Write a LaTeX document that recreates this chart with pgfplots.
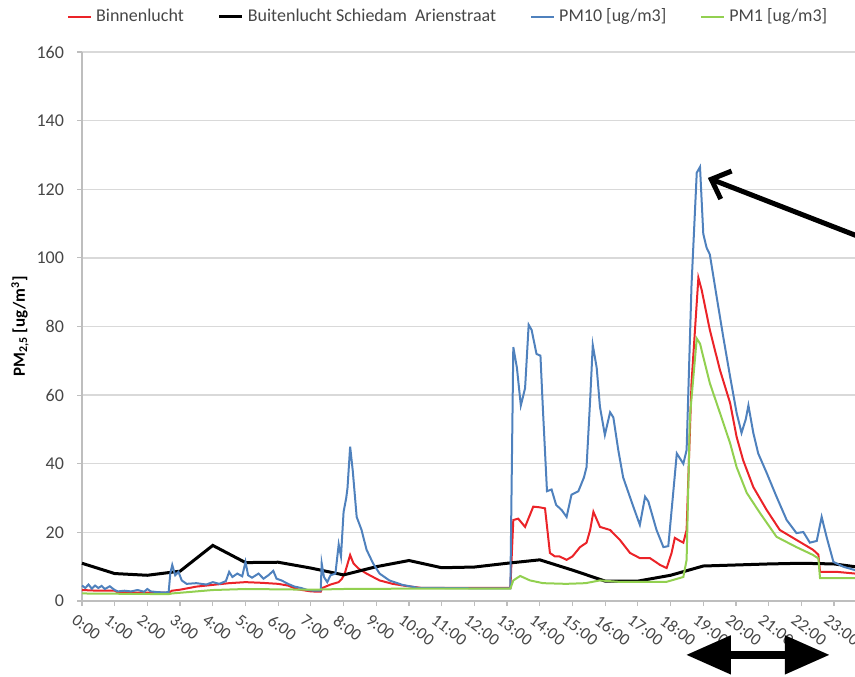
\documentclass[border=0pt]{standalone}
\usepackage{fontspec}
\setmainfont{Carlito}
\usepackage{pgfplots}
\pgfplotsset{compat=1.18}
\usetikzlibrary{arrows.meta}
\definecolor{cRed}{RGB}{235,35,40}
\definecolor{cBlue}{RGB}{79,129,189}
\definecolor{cGreen}{RGB}{146,208,80}
\definecolor{cGrid}{RGB}{217,217,217}
\definecolor{cAxis}{RGB}{190,190,190}
\definecolor{cTxt}{RGB}{70,70,70}
\begin{document}
\begin{tikzpicture}
\begin{axis}[
  at={(41pt,37.5pt)}, anchor=south west,
  scale only axis, width=386.5pt, height=274.5pt,
  xmin=0, xmax=23.64, ymin=0, ymax=160,
  clip=false,
  axis x line*=bottom, axis y line*=left,
  axis line style={cAxis, line width=0.7pt},
  tick style={cAxis, line width=0.6pt},
  tick align=outside, major tick length=2.5pt,
  xtick={0,1,...,23},
  xticklabels={0:00,1:00,2:00,3:00,4:00,5:00,6:00,7:00,8:00,9:00,10:00,11:00,12:00,13:00,14:00,15:00,16:00,17:00,18:00,19:00,20:00,21:00,22:00,23:00},
  ytick={0,20,...,160},
  ymajorgrids, grid style={cGrid, line width=0.7pt},
  /pgf/number format/assume math mode=true,
  ticklabel style={font=\fontsize{9}{10}\selectfont, text=cTxt},
  xticklabel style={rotate=-37, anchor=north west, xshift=-3pt, yshift=-1pt, font=\fontsize{8.5}{10}\selectfont},
  yticklabel style={xshift=-3pt},
  ylabel={\textbf{PM\textsubscript{2,5} [ug/m\textsuperscript{3}]}},
  ylabel style={at={(axis description cs:0,0.5)}, anchor=center, yshift=31pt, font=\fontsize{8.5}{10}\selectfont, text=black},
  legend columns=4,
  legend style={at={(axis description cs:0.475,1.064)}, anchor=center, draw=none, fill=none,
    font=\fontsize{9}{10}\selectfont, text=cTxt,
    /tikz/every even column/.append style={column sep=15pt}},
  legend image code/.code={\draw[#1] (0pt,0pt) -- (11.5pt,0pt);},
]
% Binnenlucht
\addplot[cRed, line width=1pt] coordinates {
(0.00,3.2) (0.5,3.0) (1.0,3.0) (1.1,2.5) (2.65,2.4) (2.75,3.0) (3.0,3.3) (3.5,4.2) (4.0,4.7) (4.5,5.2) (5.0,5.5) (5.5,5.3) (6.0,5.0) (6.3,4.5) (6.6,3.4) (7.0,2.8) (7.3,2.7) (7.35,3.8) (7.6,4.8) (7.85,5.5) (7.95,6.5) (8.05,8.5) (8.20,13.4) (8.30,11.0) (8.45,9.5) (8.70,8.0) (9.10,6.0) (9.50,5.0) (9.90,4.4) (10.40,3.8) (13.10,3.8) (13.19,23.6) (13.34,24) (13.55,21.6) (13.80,27.5) (14.00,27.3) (14.16,27) (14.31,14) (14.46,13) (14.60,13) (14.82,12) (15.00,13) (15.23,15.7) (15.43,17) (15.54,20.7) (15.64,26) (15.84,21.6) (16.15,20.7) (16.45,17.8) (16.76,14) (17.06,12.5) (17.37,12.5) (17.68,10.5) (17.88,9.6) (18.03,14) (18.13,18.4) (18.29,17.5) (18.39,17) (18.49,20.7) (18.64,63.5) (18.85,94.2) (18.95,90.7) (19.20,79) (19.51,67.3) (19.82,57.7) (20.02,47.8) (20.22,41) (20.53,33.2) (20.94,26.5) (21.34,20.7) (21.85,17.8) (22.36,14.9) (22.52,13.5) (22.57,8.5) (23.08,8.5) (23.64,8)
};
\addlegendentry{Binnenlucht}
% Buitenlucht
\addplot[black, line width=1.5pt] coordinates {
(0,11) (1,8) (2,7.5) (3,8.7) (4,16.2) (5,11.2) (6,11.3) (7,9.6) (8,7.6) (9,10) (10,11.8) (11,9.7) (12,9.9) (13,11) (14,12) (15,9) (16,5.8) (17,5.8) (18,7.5) (19,10.2) (20,10.5) (21,10.8) (22,11) (23,10.8) (23.64,10)
};
\addlegendentry{Buitenlucht Schiedam\ \ Arienstraat}
% PM10
\addplot[cBlue, line width=1pt] coordinates {
(0.00,4.5) (0.10,3.8) (0.20,4.8) (0.30,3.6) (0.40,4.5) (0.50,3.8) (0.60,4.4) (0.70,3.5) (0.85,4.3) (1.00,3.2) (1.10,2.8) (1.30,3.0) (1.50,2.8) (1.70,3.2) (1.90,2.7) (2.00,3.5) (2.10,2.8) (2.30,2.6) (2.50,2.5) (2.65,2.6) (2.70,8.0) (2.76,10.5) (2.85,7.5) (2.95,8.5) (3.05,6.0) (3.20,5.0) (3.50,5.2) (3.80,4.8) (4.00,5.5) (4.20,5.0) (4.40,5.8) (4.50,8.5) (4.60,7.0) (4.75,8.0) (4.90,7.2) (5.00,11.4) (5.08,7.5) (5.20,6.8) (5.40,8.0) (5.55,6.5) (5.70,7.5) (5.85,8.8) (5.95,6.5) (6.10,6.0) (6.30,5.0) (6.50,4.2) (6.70,3.8) (6.90,3.2) (7.10,3.0) (7.30,3.0) (7.33,11.0) (7.40,7.0) (7.50,5.5) (7.60,7.5) (7.75,8.0) (7.85,16.5) (7.92,13.0) (8.00,26.0) (8.08,30.0) (8.12,33.0) (8.20,45.0) (8.28,38.0) (8.40,24.5) (8.55,20.7) (8.70,15.0) (8.90,11.0) (9.10,8.0) (9.40,6.0) (9.80,4.7) (10.30,3.8) (11.00,3.8) (12.00,3.7) (13.10,3.7) (13.19,74) (13.30,68) (13.42,57) (13.55,62) (13.66,80.5) (13.75,79) (13.90,72) (14.02,71.5) (14.10,55) (14.22,32) (14.36,32.5) (14.50,28) (14.67,26.5) (14.82,24.5) (14.97,31) (15.18,32) (15.35,36) (15.43,39) (15.54,58.6) (15.62,74.6) (15.74,68) (15.84,56.6) (15.99,48.4) (16.15,55) (16.25,53.5) (16.40,44) (16.55,36) (16.86,27.5) (17.06,22.2) (17.22,30.4) (17.32,29) (17.57,20.7) (17.78,15.7) (17.93,16) (18.08,31.5) (18.19,43) (18.39,40) (18.49,44) (18.64,92) (18.80,124.8) (18.90,126.5) (19.00,107) (19.10,103) (19.20,101) (19.41,88.6) (19.61,77) (19.82,65.4) (20.02,54.8) (20.17,49) (20.30,53) (20.38,57) (20.53,49) (20.68,43) (20.94,37.3) (21.24,30.4) (21.55,23.6) (21.85,19.8) (22.06,20.1) (22.26,17) (22.47,17.5) (22.62,24.5) (22.77,18.7) (22.98,11.4) (23.28,10) (23.64,9)
};
\addlegendentry{PM10 [ug/m3]}
% PM1
\addplot[cGreen, line width=1pt] coordinates {
(0.00,2.2) (2.65,2.0) (2.75,2.2) (3.5,2.8) (4.0,3.2) (5.0,3.5) (7.0,3.3) (8.0,3.5) (10.0,3.6) (13.10,3.6) (13.19,6.0) (13.40,7.3) (13.70,6.0) (14.10,5.2) (14.80,5.0) (15.40,5.2) (15.84,6.0) (16.40,5.6) (17.88,5.6) (18.39,7.0) (18.49,12) (18.59,53.6) (18.80,76.5) (18.90,75) (19.20,63.5) (19.51,54.8) (19.82,46) (20.02,39) (20.33,31.5) (20.73,25.7) (21.24,18.7) (21.85,15.7) (22.36,13.4) (22.52,12.4) (22.57,6.7) (23.64,6.7)
};
\addlegendentry{PM1 [ug/m3]}
% annotations
\draw[black, line width=2.5pt, -{Straight Barb[length=8pt,width=15pt]}] (axis cs:25.0,101.6) -- (axis cs:19.14,123.3);
\draw[black, line width=4pt, {Triangle[length=22.5pt,width=18.5pt]}-{Triangle[length=22.5pt,width=18.5pt]}] (axis cs:18.47,-15.7) -- (axis cs:22.87,-15.7);
\end{axis}
\pgfresetboundingbox
\useasboundingbox (0,0) rectangle (427.5pt,338pt);
\end{tikzpicture}
\end{document}
